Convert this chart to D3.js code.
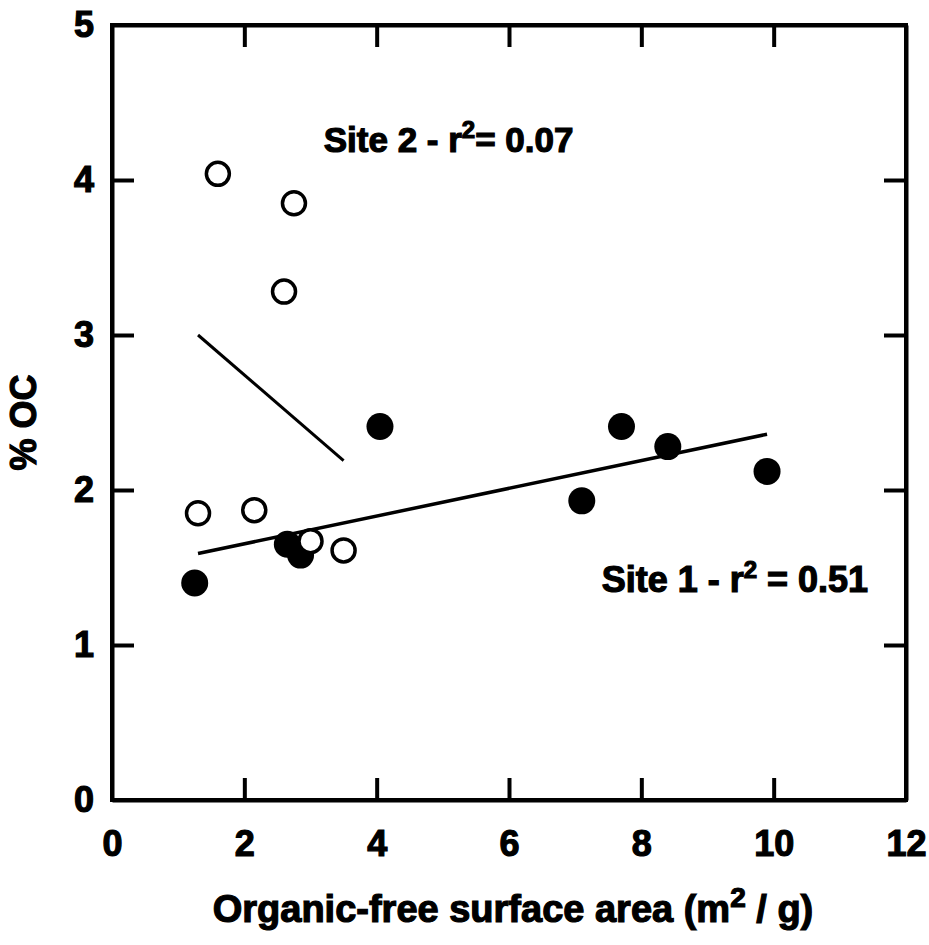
<!DOCTYPE html>
<html>
<head>
<meta charset="utf-8">
<script src="https://cdn.jsdelivr.net/npm/d3@7/dist/d3.min.js"></script>
<style>
  body { margin: 0; background: #fff; }
  text { font-family: "Liberation Sans", Arial, sans-serif; font-weight: bold; fill: #000; stroke: #000; stroke-width: 1.2px; }
</style>
</head>
<body>
<div id="chart"></div>
<script>
// site 1 (filled) and site 2 (open) samples
const site1X = [1.25, 2.65, 2.85, 4.05, 7.1, 7.7, 8.4, 9.9];
const site1Y = [1.40, 1.65, 1.58, 2.41, 1.93, 2.41, 2.28, 2.12];
const site2X = [1.6, 2.75, 2.6, 1.3, 2.15, 3.0, 3.5];
const site2Y = [4.04, 3.85, 3.28, 1.85, 1.87, 1.67, 1.61];
// regression line endpoints
const fit1X = [1.3, 9.9];
const fit1Y = [1.59, 2.36];
const fit2X = [1.3, 3.5];
const fit2Y = [3.0, 2.19];
const xTicks = [0, 2, 4, 6, 8, 10, 12];
const yTicks = [0, 1, 2, 3, 4, 5];

const W = 929, H = 945;
const margin = { top: 25, right: 23, bottom: 145, left: 112 };
const width = W - margin.left - margin.right;
const height = H - margin.top - margin.bottom;

const svg = d3.select('#chart').append('svg')
  .attr('width', W)
  .attr('height', H);
const g = svg.append('g')
  .attr('transform', 'translate(' + margin.left + ',' + margin.top + ')');

const x = d3.scaleLinear().domain([0, 12]).range([0, width]);
const y = d3.scaleLinear().domain([0, 5]).range([height, 0]);

// frame with inward ticks on every side
const tickLen = 22;
g.append('g').attr('transform', `translate(0,${height})`)
  .call(d3.axisBottom(x).tickValues(xTicks).tickSizeInner(-tickLen).tickSizeOuter(0).tickPadding(30).tickFormat(d3.format('d')));
g.append('g')
  .call(d3.axisTop(x).tickValues(xTicks).tickSizeInner(-tickLen).tickSizeOuter(0).tickFormat(''));
g.append('g')
  .call(d3.axisLeft(y).tickValues(yTicks).tickSizeInner(-tickLen).tickSizeOuter(0).tickPadding(18).tickFormat(d3.format('d')));
g.append('g').attr('transform', `translate(${width},0)`)
  .call(d3.axisRight(y).tickValues(yTicks).tickSizeInner(-tickLen).tickSizeOuter(0).tickFormat(''));

g.selectAll('.domain').attr('stroke', '#000').attr('stroke-width', 4);
g.selectAll('.tick line').attr('stroke', '#000').attr('stroke-width', 4);
g.selectAll('.tick text').style('font-size', '36px');
// ticks at the frame ends are not drawn
g.selectAll('.tick').filter(d => d === 0 || d === 12 || d === 5).select('line').remove();
g.append('rect')
  .attr('width', width).attr('height', height)
  .attr('fill', 'none').attr('stroke', '#000').attr('stroke-width', 4);

// fit lines
const line = d3.line().x(d => x(d[0])).y(d => y(d[1]));
g.append('path').datum(d3.zip(fit1X, fit1Y))
  .attr('d', line).attr('stroke', '#000').attr('stroke-width', 3.5).attr('fill', 'none');
g.append('path').datum(d3.zip(fit2X, fit2Y))
  .attr('d', line).attr('stroke', '#000').attr('stroke-width', 3).attr('fill', 'none');

// points
g.selectAll('.s1').data(d3.zip(site1X, site1Y)).enter()
  .append('circle').attr('class', 's1')
  .attr('cx', d => x(d[0])).attr('cy', d => y(d[1]))
  .attr('r', 13.5).attr('fill', '#000');
g.selectAll('.s2').data(d3.zip(site2X, site2Y)).enter()
  .append('circle').attr('class', 's2')
  .attr('cx', d => x(d[0])).attr('cy', d => y(d[1]))
  .attr('r', 11.5).attr('fill', '#fff').attr('stroke', '#000').attr('stroke-width', 3.5);

// annotations
const ann1 = g.append('text').attr('x', x(7.4)).attr('y', y(1.34)).style('font-size', '36px');
ann1.append('tspan').text('Site 1 - r');
ann1.append('tspan').attr('dy', -14).style('font-size', '24px').text('2');
ann1.append('tspan').attr('dy', 14).text(' = 0.51');

const ann2 = g.append('text').attr('x', x(3.2)).attr('y', y(4.18)).style('font-size', '35px');
ann2.append('tspan').text('Site 2 - r');
ann2.append('tspan').attr('dy', -14).style('font-size', '24px').text('2');
ann2.append('tspan').attr('dy', 14).text('= 0.07');

// axis titles
const xt = svg.append('text')
  .attr('x', margin.left + width / 2 + 4).attr('y', 922)
  .attr('text-anchor', 'middle').style('font-size', '38px');
xt.append('tspan').text('Organic-free surface area (m');
xt.append('tspan').attr('dy', -15).style('font-size', '28px').text('2');
xt.append('tspan').attr('dy', 15).text(' / g)');

svg.append('text')
  .attr('transform', `translate(36,${margin.top + height / 2 + 10}) rotate(-90)`)
  .attr('text-anchor', 'middle').style('font-size', '36px')
  .text('% OC');
</script>
</body>
</html>
